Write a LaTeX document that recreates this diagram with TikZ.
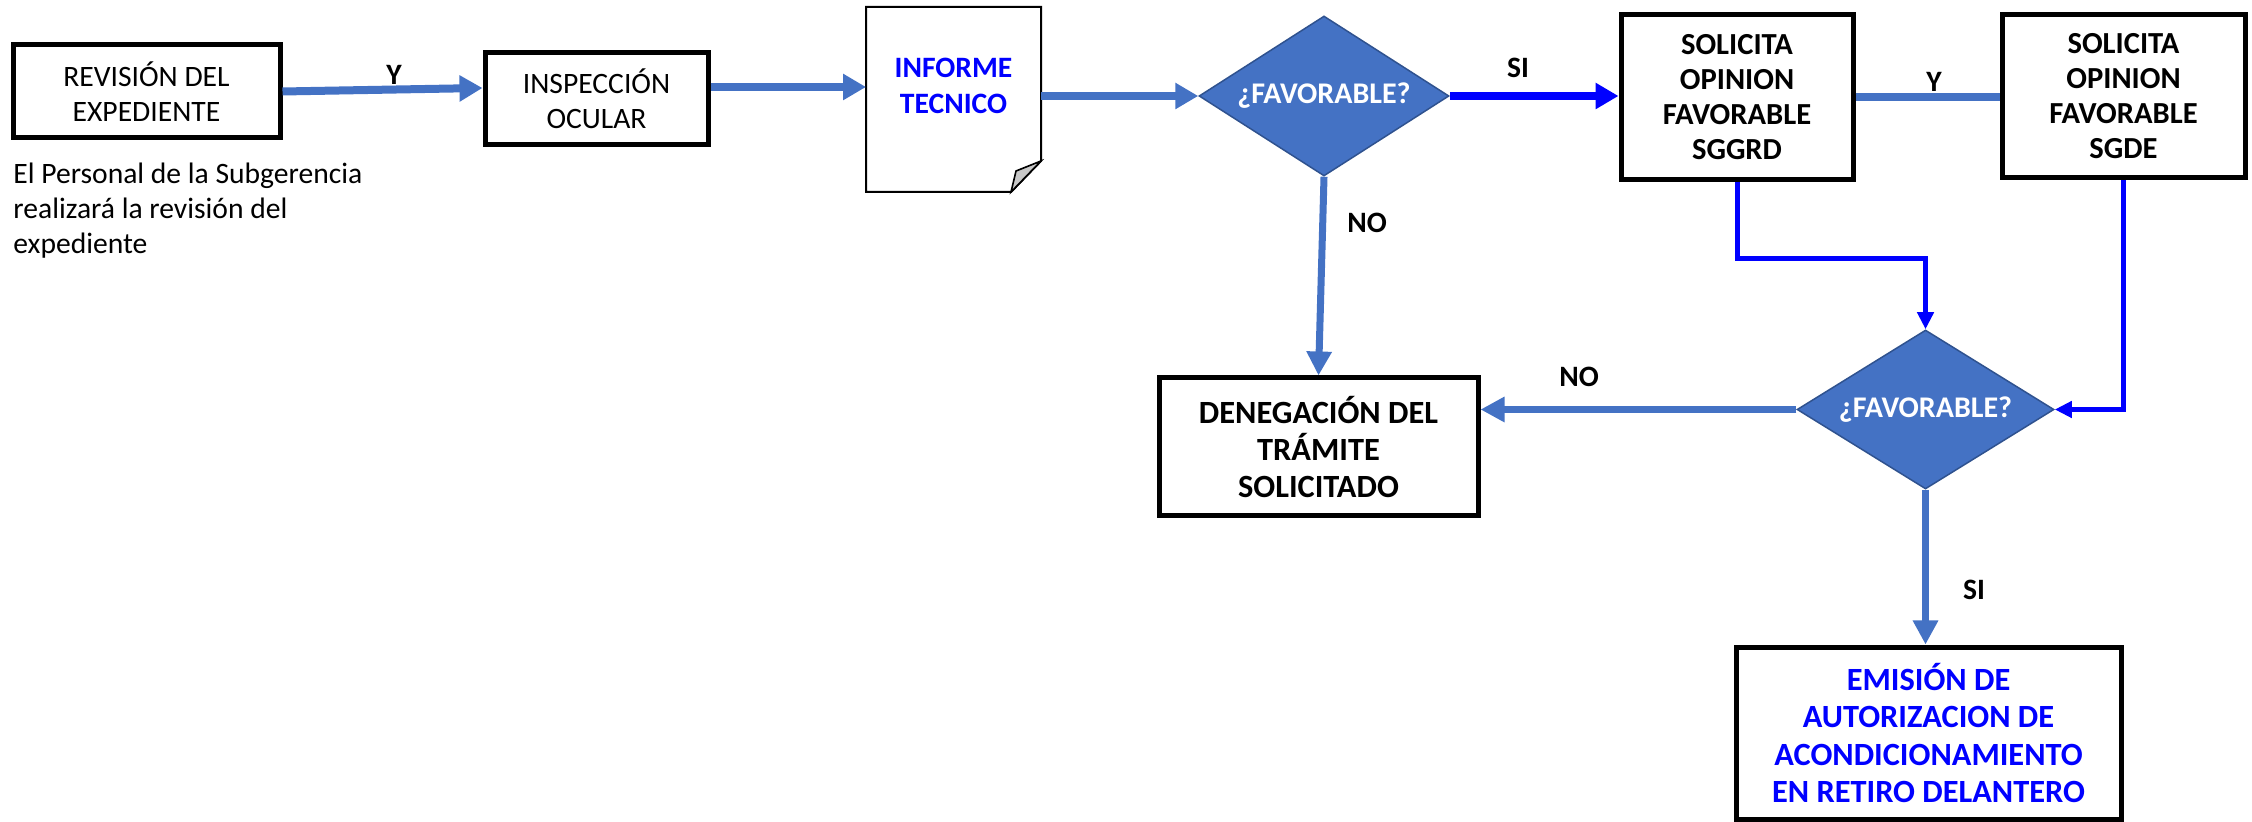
\documentclass[tikz,border=0pt]{standalone}
\usepackage{fontspec}
\setmainfont{Carlito}
\usetikzlibrary{arrows.meta,shapes.geometric,calc}
\definecolor{sblue}{HTML}{4472C4}
\definecolor{pblue}{HTML}{0000FF}
\definecolor{dborder}{HTML}{2F528F}
\definecolor{foldgray}{HTML}{C8C8C8}
\begin{document}
\begin{tikzpicture}[x=0.5pt,y=-0.5pt,
  font=\fontsize{14.8pt}{17.5pt}\selectfont,
  box/.style={draw=black,line width=2.5pt,fill=white,align=center,inner sep=0pt},
  boldbox/.style={box,font=\fontsize{15.3pt}{17.5pt}\selectfont\bfseries},
  bigbox/.style={box,font=\fontsize{16.2pt}{18.7pt}\selectfont\bfseries},
  decision/.style={diamond,aspect=1.56,draw=dborder,line width=0.75pt,fill=sblue,inner sep=0pt,
    text=white,font=\fontsize{15pt}{18pt}\selectfont\bfseries},
  lbl/.style={inner sep=0pt,font=\fontsize{14.8pt}{18pt}\selectfont\bfseries},
  flowA/.style={draw=sblue,line width=4pt,-{Triangle[length=11.5pt,width=12.5pt]}},
  flowN/.style={draw=sblue,line width=3.5pt,-{Triangle[length=12pt,width=12pt]}},
  flowB/.style={draw=pblue,line width=4pt,-{Triangle[length=11.5pt,width=12.5pt]}},
  flowT/.style={draw=pblue,line width=2.5pt,-{Triangle[length=8.5pt,width=8pt]}},
  link/.style={draw=sblue,line width=4pt}
]
\useasboundingbox (0,0) rectangle (2252,822);

% nodes
\node[box,minimum width=133.5pt,minimum height=46.5pt] (rev) at (146.5,91.5) {REVISIÓN DEL\\EXPEDIENTE};
\node[box,minimum width=111.5pt,minimum height=46pt] (insp) at (596.5,99) {INSPECCIÓN\\OCULAR};
\node[inner sep=0pt,outer sep=0pt,minimum width=87.5pt,minimum height=92.5pt] (inf) at (953.5,99.5) {};
\draw[line width=1pt,fill=white] (inf.north west) -- (inf.north east) -- ([yshift=15.5pt]inf.south east)
  -- ([xshift=-15pt]inf.south east) -- (inf.south west) -- cycle;
\draw[line width=0.8pt,fill=foldgray] ([yshift=15.5pt]inf.south east) -- ([xshift=-15pt]inf.south east)
  -- ([xshift=-12.5pt,yshift=10.5pt]inf.south east) -- cycle;
\node[lbl,align=center,text=pblue] (inftxt) at (953.5,86) {INFORME\\TECNICO};
\node[decision,minimum width=125pt,minimum height=80pt] (d1) at (1324,96) {¿FAVORABLE?};
\node[boldbox,minimum width=116pt,minimum height=82.5pt] (sggrd) at (1737,97.5) {SOLICITA\\OPINION\\FAVORABLE\\SGGRD};
\node[boldbox,minimum width=121.5pt,minimum height=81.5pt] (sgde) at (2123.5,96.5) {SOLICITA\\OPINION\\FAVORABLE\\SGDE};
\node[decision,minimum width=128.5pt,minimum height=79.5pt] (d2) at (1925.5,409.5) {¿FAVORABLE?};
\node[bigbox,minimum width=159.5pt,minimum height=69pt] (den) at (1318.5,447) {DENEGACIÓN DEL\\TRÁMITE\\SOLICITADO};
\node[bigbox,text=pblue,minimum width=192.5pt,minimum height=86pt] (emi) at (1928.5,733) {EMISIÓN DE\\AUTORIZACION DE\\ACONDICIONAMIENTO\\EN RETIRO DELANTERO};

\node[anchor=north west,align=left,inner sep=0pt] (note) at (13,163) {El Personal de la Subgerencia\\realizará la revisión del\\expediente};

% connectors
\draw[flowA] (rev.east) -- ([yshift=5.5pt]insp.west);
\draw[flowA] ([yshift=6pt]insp.east) -- ([yshift=6pt]insp.east -| inf.west);
\draw[flowA] (inf.east |- d1.west) -- (d1.west);
\draw[flowB] (d1.east) -- (d1.east -| sggrd.west);
\draw[link] (sggrd.east) -- (sggrd.east -| sgde.west);
\draw[flowN] (d1.south) -- (den.north);
\draw[flowT] (sggrd.south) -- ++(0,76) -| (d2.north);
\draw[flowT] (sgde.south) |- (d2.east);
\draw[flowN] (d2.west) -- (d2.west -| den.east);
\draw[flowN] (d2.south) -- (d2.south |- emi.north);

% labels
\node[lbl] (ly1) at (394,75) {Y};
\node[lbl] (lsi1) at (1518,68) {SI};
\node[lbl] (ly2) at (1934,82) {Y};
\node[lbl] (lno1) at (1367,223) {NO};
\node[lbl] (lno2) at (1579,377) {NO};
\node[lbl] (lsi2) at (1974,590) {SI};
\end{tikzpicture}
\end{document}
